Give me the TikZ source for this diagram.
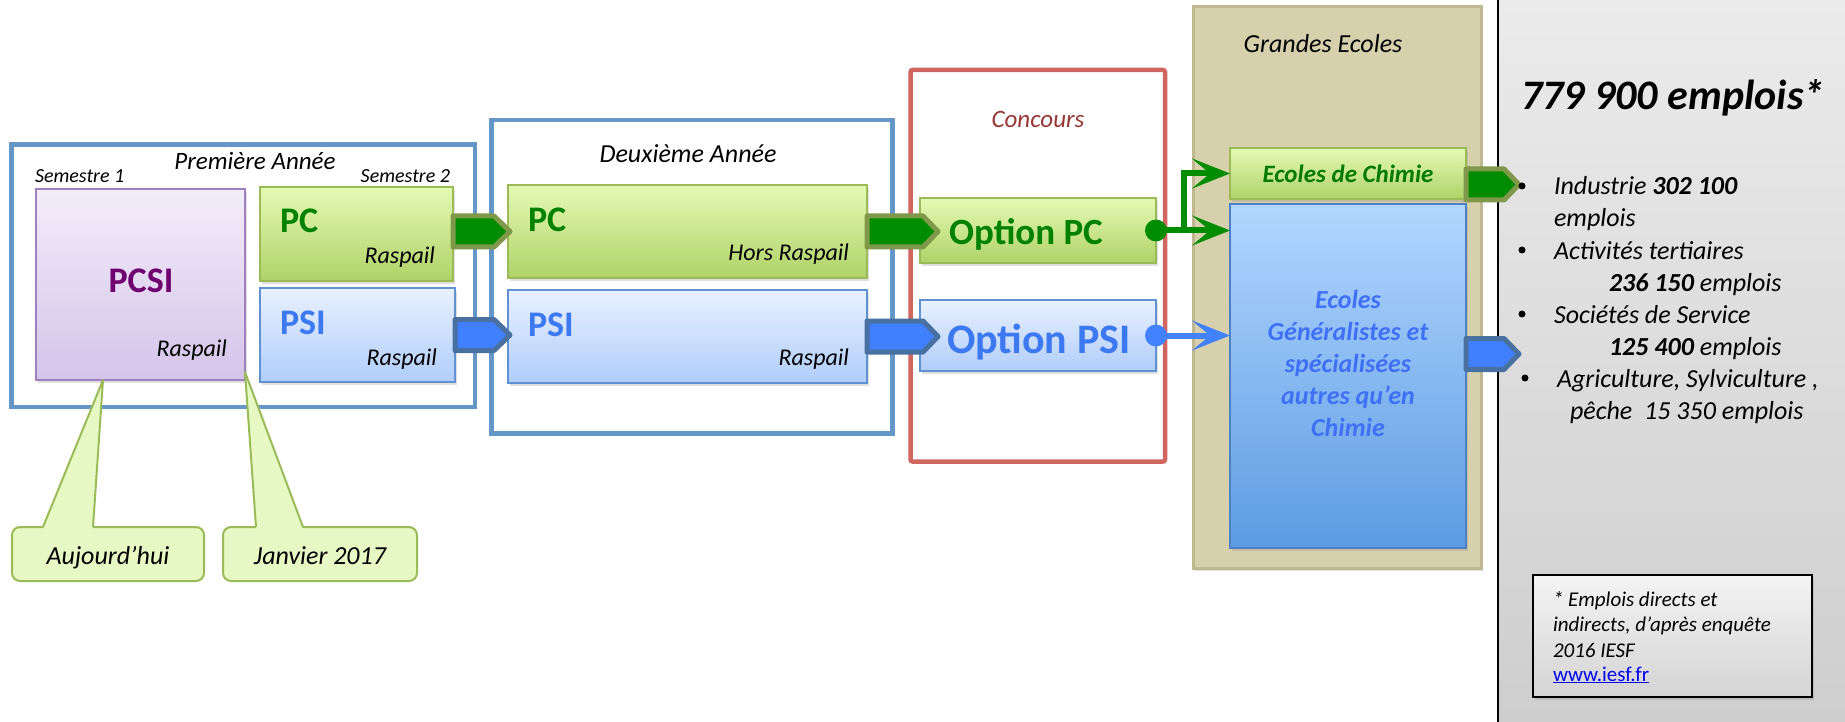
\documentclass[tikz,border=0pt]{standalone}
\usepackage{fontspec}
\setmainfont{Carlito}
\usetikzlibrary{shadows,arrows.meta,calc}
\definecolor{yearblue}{RGB}{100,150,200}
\definecolor{concred}{RGB}{208,102,96}
\definecolor{conctext}{RGB}{150,55,52}
\definecolor{gtop}{RGB}{228,250,180}
\definecolor{gbot}{RGB}{176,210,104}
\definecolor{gborder}{RGB}{155,187,89}
\definecolor{btop}{RGB}{232,241,255}
\definecolor{bbot}{RGB}{176,205,250}
\definecolor{bborder}{RGB}{96,146,210}
\definecolor{ptop}{RGB}{243,237,250}
\definecolor{pbot}{RGB}{213,196,234}
\definecolor{pborder}{RGB}{160,128,190}
\definecolor{pctext}{RGB}{0,130,0}
\definecolor{psitext}{RGB}{60,120,240}
\definecolor{pcsitext}{RGB}{112,0,112}
\definecolor{garrowfill}{RGB}{0,140,0}
\definecolor{garrowline}{RGB}{128,152,74}
\definecolor{barrowfill}{RGB}{64,128,255}
\definecolor{barrowline}{RGB}{72,112,160}
\definecolor{tanfill}{RGB}{214,208,173}
\definecolor{tanborder}{RGB}{192,184,144}
\definecolor{gentop}{RGB}{178,214,255}
\definecolor{genbot}{RGB}{92,156,226}
\definecolor{genborder}{RGB}{78,128,196}
\definecolor{gentext}{RGB}{64,112,245}
\definecolor{chimtext}{RGB}{0,122,0}
\definecolor{greytop}{RGB}{235,235,235}
\definecolor{greybot}{RGB}{206,206,206}
\definecolor{calloutfill}{RGB}{230,249,196}
\definecolor{linkblue}{RGB}{0,0,238}
\definecolor{gline}{RGB}{0,140,0}
\definecolor{bline}{RGB}{66,130,255}
\definecolor{fntop}{RGB}{244,244,244}
\definecolor{fnbot}{RGB}{212,212,212}
\newcommand\hplate[4]{\draw[#1] (#2) ++(0,-15.5) -- ++(#3,0) -- ++(#4,15.5) -- ++(-#4,15.5) -- ++(-#3,0) -- cycle;}
\tikzset{
  itxt/.style={inner sep=0pt, outer sep=0pt, font=\fontsize{#1}{#1}\selectfont\itshape},
  btxt/.style={inner sep=0pt, outer sep=0pt, font=\fontsize{#1}{#1}\selectfont\bfseries},
  bitxt/.style={inner sep=0pt, outer sep=0pt, font=\fontsize{#1}{#1}\selectfont\bfseries\itshape},
  frame/.style={draw, line width=4.5pt, inner sep=0pt, outer sep=0pt, anchor=north west},
  yearbox/.style={frame, draw=yearblue},
  box/.style={draw, line width=2pt, inner sep=0pt, outer sep=0pt, anchor=north west,
    drop shadow={shadow xshift=2pt, shadow yshift=-3pt, opacity=0.25}},
  greenbox/.style={box, draw=gborder, top color=gtop, bottom color=gbot},
  bluebox/.style={box, draw=bborder, top color=btop, bottom color=bbot},
  purplebox/.style={box, draw=pborder, top color=ptop, bottom color=pbot},
  garrow/.style={fill=garrowfill, draw=garrowline, line width=5pt, line join=round},
  barrow/.style={fill=barrowfill, draw=barrowline, line width=5pt, line join=round},
  bigtip/.tip={Stealth[length=38pt,width=30pt,inset=18pt]},
  gconn/.style={draw=gline, line width=6pt, -bigtip},
  bconn/.style={draw=bline, line width=6pt, -bigtip},
  bulletdot/.style={circle, fill=black, inner sep=0pt, minimum size=7pt},
  calloutbox/.style={draw=gborder, fill=calloutfill, line width=2pt, rounded corners=8pt,
    inner sep=0pt, outer sep=0pt, anchor=north west},
}
\begin{document}
\begin{tikzpicture}[x=1pt,y=-1pt]
\useasboundingbox (0,0) rectangle (1845,722);
% right grey panel
\shade[top color=greytop, bottom color=greybot] (1498,0) rectangle (1845,722);
\draw[black, line width=2pt] (1498,0) -- (1498,722);
% Grandes Ecoles
\node[box, draw=tanborder, line width=3pt, fill=tanfill, minimum width=288, minimum height=561] (ge) at (1193,7) {};
\node[itxt=26, anchor=base] (tge) at (1323,53) {Grandes Ecoles};
% frames
\node[yearbox, minimum width=463.5, minimum height=262.5] (an1) at (11.5,144.5) {};
\node[yearbox, minimum width=401, minimum height=313.5] (an2) at (491.5,120) {};
\node[frame, draw=concred, rounded corners=2pt, minimum width=254.5, minimum height=391.5] (conc) at (910.5,70) {};
% boxes
\node[purplebox, minimum width=209, minimum height=191] (pcsi) at (36,189) {};
\node[greenbox, minimum width=193, minimum height=94] (pc1) at (260,187) {};
\node[bluebox, minimum width=195, minimum height=94] (psi1) at (260,288) {};
\node[greenbox, minimum width=359, minimum height=93] (pc2) at (508,185) {};
\node[bluebox, minimum width=359, minimum height=93] (psi2) at (508,290) {};
\node[greenbox, minimum width=236, minimum height=65] (optpc) at (920,198) {};
\node[bluebox, minimum width=236, minimum height=71] (optpsi) at (920,300) {};
\node[greenbox, minimum width=236, minimum height=51] (chim) at (1230,148) {};
\node[box, draw=genborder, top color=gentop, bottom color=genbot, minimum width=236, minimum height=344] (gen) at (1230,204) {};
% block arrows
\hplate{garrow}{pc1.east |- pc2.west}{41}{16}
\hplate{barrow}{psi1.east}{39}{16}
\hplate{garrow}{pc2.east}{56}{15}
\hplate{barrow}{psi2.east}{56}{15}
\hplate{garrow}{[yshift=-11pt]chim.east}{38}{15}
\hplate{barrow}{[yshift=22pt]gen.east}{38}{15}
% connectors from options
\coordinate (junc) at ($(optpc.east)+(28,0)$);
\draw[gconn] (optpc.east) -- (optpc.east -| gen.west);
\draw[gconn] ([yshift=-3pt]junc) |- (chim.west);
\fill[gline] (optpc.east) circle[radius=11pt];
\draw[bconn] (optpsi.east) -- (optpsi.east -| gen.west);
\fill[bline] (optpsi.east) circle[radius=11pt];
% callouts
\node[calloutbox, minimum width=192, minimum height=54] (auj) at (12,527) {};
\node[calloutbox, minimum width=194, minimum height=54] (jan) at (223,527) {};
\coordinate (tipa) at ([xshift=-37.5pt]pcsi.south);
\coordinate (tipb) at ([yshift=8pt]pcsi.south east);
\fill[calloutfill] (43,529) -- (tipa) -- (93,529) -- cycle;
\draw[gborder, line width=2pt, line join=round] (43,527) -- (tipa) -- (93,527);
\fill[calloutfill] (256,529) -- (tipb) -- (303,529) -- cycle;
\draw[gborder, line width=2pt, line join=round] (256,527) -- (tipb) -- (303,527);
% footnote box
\node[box, draw=black, top color=fntop, bottom color=fnbot, minimum width=279, minimum height=122] (fn) at (1533,575) {};
% texts
\node[itxt=25, anchor=base] (tpremiere) at (255,170) {Première Année};
\node[itxt=20, anchor=base west] (tsem1) at (35,183) {Semestre 1};
\node[itxt=20, anchor=base east] (tsem2) at (450,183) {Semestre 2};
\node[btxt=36, anchor=base, text=pcsitext] (tpcsi) at (141,292) {PCSI};
\node[itxt=24, anchor=base east] (tr1) at (227,356) {Raspail};
\node[btxt=36, anchor=base west, text=pctext] (tpc1) at (280,233) {PC};
\node[itxt=24, anchor=base east] (tr2) at (435,263) {Raspail};
\node[btxt=36, anchor=base west, text=psitext] (tpsi1) at (280,334) {PSI};
\node[itxt=24, anchor=base east] (tr3) at (437,365) {Raspail};
\node[itxt=26, anchor=base] (tdeux) at (688,163) {Deuxième Année};
\node[btxt=36, anchor=base west, text=pctext] (tpc2) at (528,232) {PC};
\node[itxt=24, anchor=base east] (thors) at (849,261) {Hors Raspail};
\node[btxt=36, anchor=base west, text=psitext] (tpsi2) at (528,336) {PSI};
\node[itxt=24, anchor=base east] (tr4) at (849,365) {Raspail};
\node[itxt=25, anchor=base, text=conctext] (tconc) at (1038,128) {Concours};
\node[btxt=37, anchor=base west, text=pctext] (toptpc) at (949,244) {Option PC};
\node[btxt=42, anchor=base west, text=psitext] (toptpsi) at (947,353) {Option PSI};
\node[bitxt=25, anchor=base, text=chimtext] (tchim) at (1348,183) {Ecoles de Chimie};
\node[inner sep=0pt, outer sep=0pt, font=\fontsize{26}{32}\selectfont\bfseries\itshape, align=center, text=gentext] (tgen) at (1348,363) {Ecoles\\Généralistes et\\spécialisées\\autres qu’en\\Chimie};
\node[bitxt=42, anchor=base west] (templois) at (1521,110) {779 900 emplois*};
\node[bulletdot] (d1) at (1522,186) {};
\node[bulletdot] (d2) at (1522,250) {};
\node[bulletdot] (d3) at (1522,314) {};
\node[bulletdot] (d4) at (1525,378) {};
\node[itxt=26, anchor=base west] (b1) at (1554,195) {Industrie \textbf{302 100}};
\node[itxt=26, anchor=base west] (b2) at (1554,227) {emplois};
\node[itxt=26, anchor=base west] (b3) at (1554,259) {Activités tertiaires};
\node[itxt=26, anchor=base west] (b4) at (1609,291) {\textbf{236 150} emplois};
\node[itxt=26, anchor=base west] (b5) at (1554,323) {Sociétés de Service};
\node[itxt=26, anchor=base west] (b6) at (1609,355) {\textbf{125 400} emplois};
\node[itxt=26, anchor=base west] (b7) at (1557,387) {Agriculture, Sylviculture ,};
\node[itxt=26, anchor=base west] (b8) at (1570,419) {pêche\ \ 15 350 emplois};
\node[itxt=21, anchor=base west] (f1) at (1553,606) {* Emplois directs et};
\node[itxt=21, anchor=base west] (f2) at (1553,631) {indirects, d’après enquête};
\node[itxt=21, anchor=base west] (f3) at (1553,657) {2016 IESF};
\node[itxt=21, anchor=base west, text=linkblue] (f4) at (1553,681) {\upshape\underline{www.iesf.fr}};
\node[itxt=26, anchor=base] (taujo) at (108,564) {Aujourd’hui};
\node[itxt=26, anchor=base] (tjan) at (320,564) {Janvier 2017};
\end{tikzpicture}
\end{document}
